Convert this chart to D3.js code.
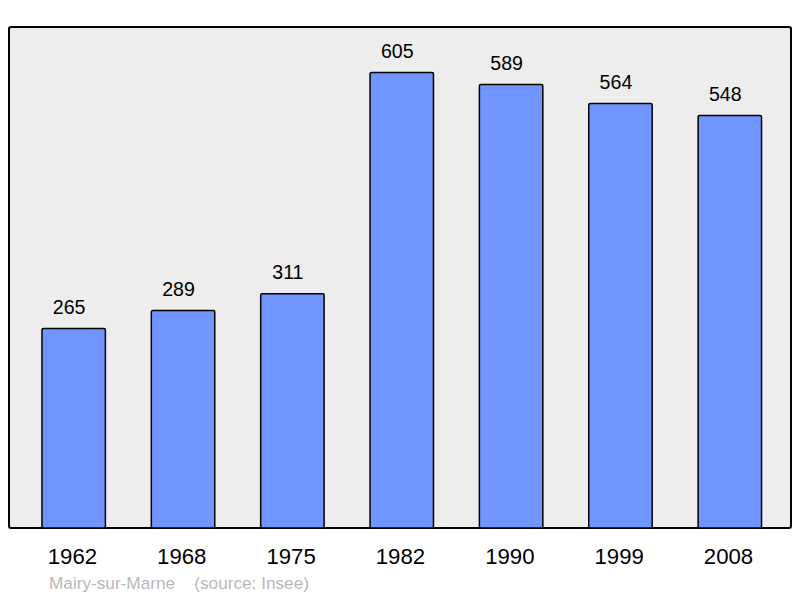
<!DOCTYPE html>
<html><head><meta charset="utf-8">
<script src="https://cdn.jsdelivr.net/npm/d3@7/dist/d3.min.js"></script>
<style>body{margin:0;background:#fff}svg{display:block}</style>
</head><body>
<svg id="c" width="800" height="598"></svg>
<script>
const years = ["1962","1968","1975","1982","1990","1999","2008"];
const population = [265,289,311,605,589,564,548];
const footerName = "Mairy-sur-Marne";
const footerSource = "(source: Insee)";

(function(){
const svg = d3.select("#c");
const pLeft = 9, pRight = 791, pTop = 27, pBottom = 528;
const font = "Liberation Sans, Arial, sans-serif";

svg.append("rect").attr("x", pLeft).attr("y", pTop)
  .attr("width", pRight-pLeft).attr("height", pBottom-pTop)
  .attr("rx", 2).attr("fill", "#ededed").attr("stroke", "#000").attr("stroke-width", 2);

const x = d3.scaleBand().domain(years).range([19, 784.5]).paddingInner(0.42).paddingOuter(0.21);
const y = d3.scaleLinear().domain([0, d3.max(population)*1.1]).range([pBottom, pTop]);

const data = years.map((yr,i)=>({yr, v: population[i]}));

svg.selectAll("rect.bar").data(data).join("rect").attr("class","bar")
  .attr("x", d=>x(d.yr)).attr("y", d=>y(d.v))
  .attr("width", x.bandwidth()).attr("height", d=>pBottom - y(d.v))
  .attr("rx", 1.5)
  .attr("fill", "#7095ff").attr("stroke", "#000").attr("stroke-width", 1.5);

svg.selectAll("text.val").data(data).join("text").attr("class","val")
  .attr("x", d=>x(d.yr)+x.bandwidth()/2-4.5).attr("y", d=>y(d.v)-14.5)
  .attr("text-anchor","middle").attr("font-family",font)
  .attr("font-size", 19.6).attr("fill","#000").text(d=>d.v);

const xAxis = d3.axisBottom(x).tickSize(0).tickPadding(0);
const g = svg.append("g").attr("transform", `translate(-1.3,${pBottom})`).call(xAxis);
g.select(".domain").remove();
g.selectAll("text").attr("dy", null).attr("y", 36.3)
  .attr("font-family",font).attr("font-size", 22.2).attr("fill","#000");

svg.append("text").attr("x", 49).attr("y", 589.3)
  .attr("font-family",font).attr("font-size", 17.2).attr("fill","#b8b8b8")
  .text(footerName);
svg.append("text").attr("x", 194.3).attr("y", 589.3)
  .attr("font-family",font).attr("font-size", 17.2).attr("fill","#b8b8b8")
  .text(footerSource);
})();
</script>
</body></html>
